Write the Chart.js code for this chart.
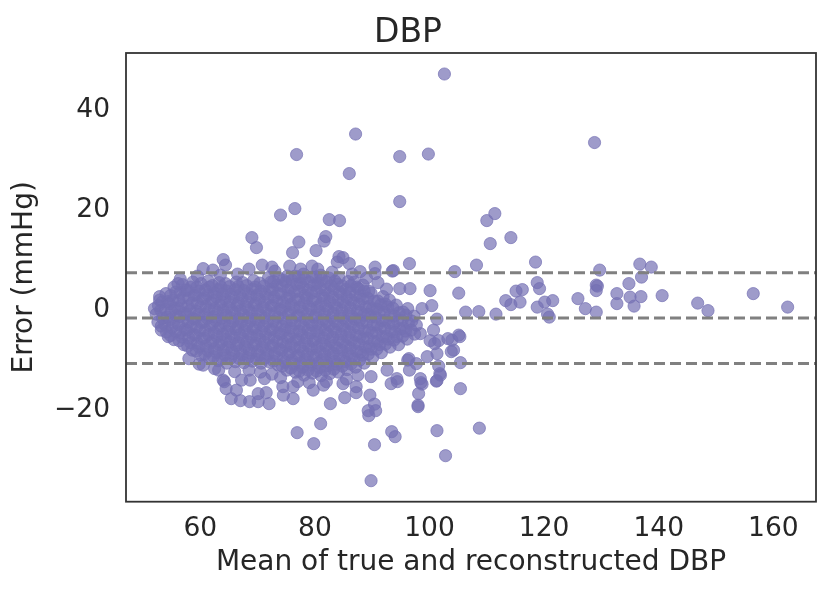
<!DOCTYPE html>
<html>
<head>
<meta charset="utf-8">
<script src="https://cdn.jsdelivr.net/npm/chart.js@4.4.1/dist/chart.umd.min.js"></script>
<style>
  html, body { margin: 0; padding: 0; background: #fff; }
</style>
</head>
<body>
<canvas id="chart" width="831" height="595"></canvas>
<script>
// Bland-Altman: mean of true/reconstructed DBP vs error
const chartTitle = "DBP";
const xLabel = "Mean of true and reconstructed DBP";
const yLabel = "Error (mmHg)";

const xTicks = [60, 80, 100, 120, 140, 160];
const yTicks = [-20, 0, 20, 40];
const xRange = [47.03, 167.45];
const yRange = [-38.3, 51.4];

// mean and limits of agreement (mean +/- 1.96 SD)
const agreement = [7.45, -1.6, -10.65];

// dense body of the cloud
const cloudPoints = [
  [52.6,-2.4],[52.3,-0.8],[52.7,0.9],[52.9,2.0],
  [54.1,-4.4],[53.8,-2.9],[54.2,-1.4],[53.9,0.1],[54.3,1.7],[54.0,3.3],
  [55.4,-5.9],[55.7,-4.3],[55.3,-2.6],[55.8,-1.1],[55.5,0.4],[55.2,2.0],[55.7,3.6],[55.4,4.6],
  [57.1,-6.9],[56.8,-5.4],[57.3,-3.8],[56.9,-2.2],[57.2,-0.6],[56.7,0.9],[57.0,2.5],[57.4,4.0],[56.9,5.1],
  [58.6,-8.0],[58.3,-6.5],[58.8,-4.9],[58.4,-3.3],[58.7,-1.7],[58.2,-0.1],[58.6,1.4],[58.9,3.0],[58.3,4.6],[58.7,5.6],
  [60.1,-9.0],[59.8,-7.4],[60.3,-5.8],[59.9,-4.1],[60.2,-2.5],[59.7,-0.9],[60.0,0.6],[60.4,2.2],[59.8,3.8],[60.1,5.3],
  [61.6,-9.6],[61.3,-8.1],[61.8,-6.5],[61.4,-4.9],[61.7,-3.2],[61.2,-1.6],[61.5,0.0],[61.9,1.5],[61.3,3.1],[61.6,4.6],[61.4,5.8],
  [63.1,-10.1],[62.8,-8.5],[63.3,-6.9],[62.9,-5.3],[63.2,-3.7],[62.7,-2.1],[63.0,-0.5],[63.4,1.0],[62.8,2.6],[63.1,4.1],[63.3,5.5],
  [64.6,-10.6],[64.3,-9.0],[64.8,-7.4],[64.4,-5.8],[64.7,-4.2],[64.2,-2.6],[64.5,-1.0],[64.9,0.6],[64.3,2.2],[64.6,3.8],[64.4,5.3],
  [66.1,-10.3],[65.8,-8.7],[66.3,-7.1],[65.9,-5.5],[66.2,-3.9],[65.7,-2.3],[66.0,-0.7],[66.4,0.9],[65.8,2.5],[66.1,4.1],[66.3,5.6],
  [67.6,-10.5],[67.3,-8.9],[67.8,-7.3],[67.4,-5.7],[67.7,-4.1],[67.2,-2.5],[67.5,-0.9],[67.9,0.7],[67.3,2.3],[67.6,3.9],[67.4,5.5],
  [69.1,-10.2],[68.8,-8.6],[69.3,-7.0],[68.9,-5.4],[69.2,-3.8],[68.7,-2.2],[69.0,-0.6],[69.4,1.0],[68.8,2.6],[69.1,4.2],[69.3,5.9],
  [70.6,-10.6],[70.3,-9.0],[70.8,-7.4],[70.4,-5.8],[70.7,-4.2],[70.2,-2.6],[70.5,-1.0],[70.9,0.6],[70.3,2.2],[70.6,3.8],[70.4,5.4],
  [72.1,-10.4],[71.8,-8.8],[72.3,-7.2],[71.9,-5.6],[72.2,-4.0],[71.7,-2.4],[72.0,-0.8],[72.4,0.8],[71.8,2.4],[72.1,4.0],[72.3,5.6],[71.9,6.5],
  [73.6,-11.0],[73.3,-9.4],[73.8,-7.8],[73.4,-6.2],[73.7,-4.6],[73.2,-3.0],[73.5,-1.4],[73.9,0.2],[73.3,1.8],[73.6,3.4],[73.4,5.0],[73.7,6.4],
  [75.1,-12.0],[74.8,-10.4],[75.3,-8.8],[74.9,-7.2],[75.2,-5.6],[74.7,-4.0],[75.0,-2.4],[75.4,-0.8],[74.8,0.8],[75.1,2.4],[75.3,4.0],[74.9,5.6],[75.2,6.8],
  [76.6,-12.4],[76.3,-10.8],[76.8,-9.2],[76.4,-7.6],[76.7,-6.0],[76.2,-4.4],[76.5,-2.8],[76.9,-1.2],[76.3,0.4],[76.6,2.0],[76.4,3.6],[76.8,5.2],[76.5,6.8],
  [78.1,-13.0],[77.8,-11.4],[78.3,-9.8],[77.9,-8.2],[78.2,-6.6],[77.7,-5.0],[78.0,-3.4],[78.4,-1.8],[77.8,-0.2],[78.1,1.4],[78.3,3.0],[77.9,4.6],[78.2,6.2],[78.0,7.2],
  [79.6,-12.6],[79.3,-11.0],[79.8,-9.4],[79.4,-7.8],[79.7,-6.2],[79.2,-4.6],[79.5,-3.0],[79.9,-1.4],[79.3,0.2],[79.6,1.8],[79.4,3.4],[79.8,5.0],[79.5,6.6],
  [81.1,-13.1],[80.8,-11.5],[81.3,-9.9],[80.9,-8.3],[81.2,-6.7],[80.7,-5.1],[81.0,-3.5],[81.4,-1.9],[80.8,-0.3],[81.1,1.3],[81.3,2.9],[80.9,4.5],[81.2,6.1],[81.0,7.0],
  [82.6,-12.7],[82.3,-11.1],[82.8,-9.5],[82.4,-7.9],[82.7,-6.3],[82.2,-4.7],[82.5,-3.1],[82.9,-1.5],[82.3,0.1],[82.6,1.7],[82.4,3.3],[82.8,4.9],[82.5,6.4],
  [84.1,-12.4],[83.8,-10.8],[84.3,-9.2],[83.9,-7.6],[84.2,-6.0],[83.7,-4.4],[84.0,-2.8],[84.4,-1.2],[83.8,0.4],[84.1,2.0],[84.3,3.6],[83.9,5.2],[84.2,6.5],
  [85.6,-11.9],[85.3,-10.3],[85.8,-8.7],[85.4,-7.1],[85.7,-5.5],[85.2,-3.9],[85.5,-2.3],[85.9,-0.7],[85.3,0.9],[85.6,2.5],[85.4,4.1],[85.8,5.7],
  [87.1,-11.4],[86.8,-9.8],[87.3,-8.2],[86.9,-6.6],[87.2,-5.0],[86.7,-3.4],[87.0,-1.8],[87.4,-0.2],[86.8,1.4],[87.1,3.0],[87.3,4.6],[86.9,5.6],
  [88.6,-10.6],[88.3,-9.0],[88.8,-7.4],[88.4,-5.8],[88.7,-4.2],[88.2,-2.6],[88.5,-1.0],[88.9,0.6],[88.3,2.2],[88.6,3.8],[88.4,5.0],
  [90.1,-9.4],[89.8,-7.8],[90.3,-6.2],[89.9,-4.6],[90.2,-3.0],[89.7,-1.4],[90.0,0.2],[90.4,1.8],[89.8,3.4],
  [91.6,-8.5],[91.3,-6.9],[91.8,-5.3],[91.4,-3.7],[91.7,-2.1],[91.2,-0.5],[91.5,1.1],[91.9,2.7],
  [93.1,-7.4],[92.8,-5.8],[93.3,-4.2],[92.9,-2.6],[93.2,-1.0],[92.7,0.6],[93.0,2.0],
  [94.6,-6.9],[94.3,-5.3],[94.8,-3.7],[94.4,-2.1],[94.7,-0.5],[94.2,1.0],
  [96.1,-5.8],[95.8,-4.2],[96.3,-2.6],[95.9,-1.0],[96.2,0.3],
  [97.4,-4.8],[97.7,-3.0],[97.3,-1.2]
];

// second, interleaved layer of the dense body
const cloudPointsInner = [
  [53.2,-3.2],[53.4,-1.6],[53.1,0.0],[53.3,1.6],
  [54.8,-5.1],[55.0,-3.5],[54.7,-1.9],[54.9,-0.3],[54.6,1.3],[54.8,2.9],
  [56.3,-6.1],[56.5,-4.5],[56.2,-2.9],[56.4,-1.3],[56.1,0.3],[56.3,1.9],[56.5,3.5],
  [57.8,-7.2],[58.0,-5.6],[57.7,-4.0],[57.9,-2.4],[57.6,-0.8],[57.8,0.8],[58.0,2.4],[57.7,4.0],
  [59.3,-8.2],[59.5,-6.6],[59.2,-5.0],[59.4,-3.4],[59.1,-1.8],[59.3,-0.2],[59.5,1.4],[59.2,3.0],[59.4,4.6],
  [60.8,-8.8],[61.0,-7.2],[60.7,-5.6],[60.9,-4.0],[60.6,-2.4],[60.8,-0.8],[61.0,0.8],[60.7,2.4],[60.9,4.0],
  [62.3,-9.3],[62.5,-7.7],[62.2,-6.1],[62.4,-4.5],[62.1,-2.9],[62.3,-1.3],[62.5,0.3],[62.2,1.9],[62.4,3.5],[62.1,4.9],
  [63.8,-9.6],[64.0,-8.0],[63.7,-6.4],[63.9,-4.8],[63.6,-3.2],[63.8,-1.6],[64.0,0.0],[63.7,1.6],[63.9,3.2],[63.6,4.6],
  [65.3,-9.6],[65.5,-8.0],[65.2,-6.4],[65.4,-4.8],[65.1,-3.2],[65.3,-1.6],[65.5,0.0],[65.2,1.6],[65.4,3.2],[65.1,4.7],
  [66.8,-9.7],[67.0,-8.1],[66.7,-6.5],[66.9,-4.9],[66.6,-3.3],[66.8,-1.7],[67.0,-0.1],[66.7,1.5],[66.9,3.1],[66.6,4.7],
  [68.3,-9.5],[68.5,-7.9],[68.2,-6.3],[68.4,-4.7],[68.1,-3.1],[68.3,-1.5],[68.5,0.1],[68.2,1.7],[68.4,3.3],[68.1,4.9],
  [69.8,-9.8],[70.0,-8.2],[69.7,-6.6],[69.9,-5.0],[69.6,-3.4],[69.8,-1.8],[70.0,-0.2],[69.7,1.4],[69.9,3.0],[69.6,4.6],
  [71.3,-9.6],[71.5,-8.0],[71.2,-6.4],[71.4,-4.8],[71.1,-3.2],[71.3,-1.6],[71.5,0.0],[71.2,1.6],[71.4,3.2],[71.1,4.8],
  [72.8,-10.2],[73.0,-8.6],[72.7,-7.0],[72.9,-5.4],[72.6,-3.8],[72.8,-2.2],[73.0,-0.6],[72.7,1.0],[72.9,2.6],[72.6,4.2],[72.8,5.7],
  [74.3,-11.2],[74.5,-9.6],[74.2,-8.0],[74.4,-6.4],[74.1,-4.8],[74.3,-3.2],[74.5,-1.6],[74.2,0.0],[74.4,1.6],[74.1,3.2],[74.3,4.8],[74.5,6.0],
  [75.8,-11.6],[76.0,-10.0],[75.7,-8.4],[75.9,-6.8],[75.6,-5.2],[75.8,-3.6],[76.0,-2.0],[75.7,-0.4],[75.9,1.2],[75.6,2.8],[75.8,4.4],[76.0,6.0],
  [77.3,-12.2],[77.5,-10.6],[77.2,-9.0],[77.4,-7.4],[77.1,-5.8],[77.3,-4.2],[77.5,-2.6],[77.2,-1.0],[77.4,0.6],[77.1,2.2],[77.3,3.8],[77.5,5.4],[77.2,6.6],
  [78.8,-12.0],[79.0,-10.4],[78.7,-8.8],[78.9,-7.2],[78.6,-5.6],[78.8,-4.0],[79.0,-2.4],[78.7,-0.8],[78.9,0.8],[78.6,2.4],[78.8,4.0],[79.0,5.6],
  [80.3,-12.2],[80.5,-10.6],[80.2,-9.0],[80.4,-7.4],[80.1,-5.8],[80.3,-4.2],[80.5,-2.6],[80.2,-1.0],[80.4,0.6],[80.1,2.2],[80.3,3.8],[80.5,5.4],[80.2,6.6],
  [81.8,-12.0],[82.0,-10.4],[81.7,-8.8],[81.9,-7.2],[81.6,-5.6],[81.8,-4.0],[82.0,-2.4],[81.7,-0.8],[81.9,0.8],[81.6,2.4],[81.8,4.0],[82.0,5.6],
  [83.3,-11.8],[83.5,-10.2],[83.2,-8.6],[83.4,-7.0],[83.1,-5.4],[83.3,-3.8],[83.5,-2.2],[83.2,-0.6],[83.4,1.0],[83.1,2.6],[83.3,4.2],[83.5,5.8],
  [84.8,-11.2],[85.0,-9.6],[84.7,-8.0],[84.9,-6.4],[84.6,-4.8],[84.8,-3.2],[85.0,-1.6],[84.7,0.0],[84.9,1.6],[84.6,3.2],[84.8,4.8],
  [86.3,-10.8],[86.5,-9.2],[86.2,-7.6],[86.4,-6.0],[86.1,-4.4],[86.3,-2.8],[86.5,-1.2],[86.2,0.4],[86.4,2.0],[86.1,3.6],[86.3,4.9],
  [87.8,-10.0],[88.0,-8.4],[87.7,-6.8],[87.9,-5.2],[87.6,-3.6],[87.8,-2.0],[88.0,-0.4],[87.7,1.2],[87.9,2.8],[87.6,4.3],
  [89.3,-8.8],[89.5,-7.2],[89.2,-5.6],[89.4,-4.0],[89.1,-2.4],[89.3,-0.8],[89.5,0.8],[89.2,2.4],[89.4,3.8],
  [90.8,-7.8],[91.0,-6.2],[90.7,-4.6],[90.9,-3.0],[90.6,-1.4],[90.8,0.2],[91.0,1.8],
  [92.3,-6.8],[92.5,-5.2],[92.2,-3.6],[92.4,-2.0],[92.1,-0.4],[92.3,1.2],
  [93.8,-6.0],[94.0,-4.4],[93.7,-2.8],[93.9,-1.2],[93.6,0.4],
  [95.3,-5.2],[95.5,-3.6],[95.2,-2.0],[95.4,-0.4],
  [96.8,-4.0],[96.9,-2.2]
];

// loose points around the edge of the cloud
const fringePoints = [
  [52.0,0.3],[52.9,2.7],[53.2,-4.0],[54.4,-5.3],[56.1,5.3],[56.5,6.2],[59.5,6.8],[63.5,7.0],
  [66.5,7.2],[68.5,8.2],[73.0,7.8],[80.5,8.2],[83.0,7.6],[86.5,7.2],[89.0,6.4],[91.0,5.5],
  [92.5,4.2],[90.5,8.6],[86.0,9.3],[58.0,-9.7],[59.8,-10.8],[63.2,-12.0],[66.0,-12.3],[68.5,-12.0],
  [70.5,-12.4],[72.5,-12.8],[74.0,-13.5],[85.5,-13.8],[87.5,-13.0],[79.0,-14.5],[81.5,-15.0],[77.0,-14.3],
  [60.5,8.3],[62.2,8.0],[70.8,9.0],[72.5,8.6],[75.6,8.8],[77.5,8.2],[79.5,8.8],[87.9,7.7],
  [90.5,7.3],[93.7,7.9],[93.5,7.8],[94.8,4.3],[96.6,4.3],[98.7,0.3],[100.7,-4.0],[98.4,-4.7]
];

// points above the upper limit
const upperPoints = [
  [102.6,47.2],[87.1,35.2],[76.8,31.1],[94.8,30.7],[99.8,31.2],[86.0,27.3],[94.8,21.7],[74.0,19.0],
  [76.5,20.3],[82.5,18.1],[84.3,17.9],[69.0,14.5],[69.8,12.5],[77.2,13.6],[81.9,14.7],[81.6,13.8],
  [80.2,11.9],[76.1,11.5],[64.0,10.1],[64.4,9.0],[84.9,10.5],[84.2,10.7],[83.9,9.6],[96.5,9.3],
  [108.2,9.0],[110.0,17.9],[111.4,19.3],[110.6,13.3],[114.2,14.5],[104.4,7.7],[128.8,33.5],[118.5,9.6],
  [129.7,8.0],[136.7,9.2],[138.7,8.6],[137.0,6.6]
];

// points in the sparse right-hand tail
const tailPoints = [
  [134.8,5.3],[129.1,5.0],[118.8,5.5],[105.1,3.4],[100.1,3.9],[100.4,0.9],[101.3,-1.8],[106.3,-0.4],
  [108.6,-0.3],[111.6,-0.8],[113.3,1.9],[114.2,1.1],[115.1,3.8],[116.2,4.1],[115.8,1.6],[119.2,4.3],
  [118.8,0.6],[120.1,1.6],[121.5,1.9],[120.6,-0.8],[120.9,-1.4],[125.9,2.3],[127.2,0.3],[129.1,-0.4],
  [129.3,4.8],[129.1,3.9],[132.7,3.3],[132.7,1.3],[135.0,2.6],[135.7,0.8],[136.9,2.7],[140.6,2.9],
  [146.8,1.4],[148.6,-0.1],[156.5,3.3],[162.5,0.6]
];

// points below the lower limit and near the right edge of the cloud
const lowerPoints = [
  [105.1,-5.0],[103.9,-6.0],[104.2,-8.0],[101.3,-8.7],[99.6,-9.3],[105.4,-10.5],[101.6,-11.2],[96.4,-9.7],
  [92.6,-12.0],[94.3,-13.7],[98.4,-13.7],[101.6,-6.1],[100.1,-6.1],[101.2,-14.2],[101.9,-13.0],[105.4,-15.7],
  [98.7,-14.8],[98.0,-19.0],[89.8,-34.1],[102.8,-29.1],[108.7,-23.6],[101.3,-24.1],[90.4,-26.9],[93.4,-24.3],
  [94.0,-25.3],[79.8,-26.7],[76.9,-24.5],[81.0,-22.7],[89.3,-20.1],[89.4,-21.1],[90.6,-20.1],[90.4,-18.8],
  [98.0,-19.3],[98.1,-16.7],[98.5,-14.5],[101.3,-14.1],[101.8,-12.7],[82.7,-18.7],[85.2,-17.5],[87.2,-16.5],
  [89.6,-17.0],[79.7,-16.0],[76.2,-17.7],[74.5,-17.0],[72.0,-18.7],[70.1,-18.3],[68.6,-18.3],[67.0,-18.1],
  [65.4,-17.7],[64.5,-15.7],[64.2,-14.3],[66.3,-16.0],[71.5,-16.5],[70.1,-16.7],[93.3,-14.7],[94.4,-14.3],
  [96.5,-12.0],[96.2,-10.0],[97.7,-10.7],[100.9,-6.7],[103.8,-8.3],[105.3,-5.3],[103.2,-5.7],[60.5,-11.0],
  [62.5,-11.7],[74.4,-15.3],[76.2,-15.3],[71.2,-13.7],[68.7,-14.0],[67.2,-14.0],[64.0,-14.0],[89.8,-13.3],
  [87.2,-15.3],[84.9,-14.7],[82.0,-14.3]
];

const allPoints = [...cloudPoints, ...cloudPointsInner, ...fringePoints, ...upperPoints, ...tailPoints, ...lowerPoints]
  .map(([x, y]) => ({ x, y }));

const textColor = "#262626";
const fontFamily = "'DejaVu Sans', sans-serif";

const frame = {
  id: "frame",
  afterDatasetsDraw(chart) {
    const { ctx, chartArea: a } = chart;
    ctx.save();
    ctx.strokeStyle = "#333333";
    ctx.lineWidth = 1.8;
    ctx.strokeRect(a.left, a.top, a.right - a.left, a.bottom - a.top);
    ctx.restore();
  },
};

const lineSets = agreement.map((v) => ({
  type: "line",
  data: [{ x: xRange[0], y: v }, { x: xRange[1], y: v }],
  borderColor: "#808080",
  borderWidth: 3,
  borderDash: [11, 5],
  pointRadius: 0,
  order: 0,
}));

new Chart(document.getElementById("chart"), {
  type: "scatter",
  data: {
    datasets: [
      ...lineSets,
      {
        data: allPoints,
        backgroundColor: "rgba(117, 112, 179, 0.7)",
        borderColor: "rgba(117, 112, 179, 0.7)",
        borderWidth: 1,
        pointRadius: 6.1,
        order: 1,
      },
    ],
  },
  options: {
    responsive: false,
    animation: false,
    layout: { padding: { left: 0, right: 15, top: 0, bottom: 0 } },
    plugins: {
      legend: { display: false },
      tooltip: { enabled: false },
      title: {
        display: true,
        text: chartTitle,
        color: textColor,
        font: { family: fontFamily, size: 33, weight: "normal", lineHeight: 1.18 },
        padding: { top: 13.7, bottom: 0.36 },
      },
    },
    scales: {
      x: {
        type: "linear",
        min: xRange[0],
        max: xRange[1],
        grid: { display: false, drawTicks: false },
        border: { display: false },
        afterBuildTicks: (s) => { s.ticks = xTicks.map((v) => ({ value: v })); },
        afterFit: (s) => { s.height = 93.3; },
        ticks: {
          color: textColor,
          padding: 12,
          maxRotation: 0,
          font: { family: fontFamily, size: 26.5 },
        },
        title: {
          display: true,
          text: xLabel,
          color: textColor,
          font: { family: fontFamily, size: 28, lineHeight: 1.2 },
          padding: { top: 0, bottom: 15 },
        },
      },
      y: {
        type: "linear",
        min: yRange[0],
        max: yRange[1],
        grid: { display: false, drawTicks: false },
        border: { display: false },
        afterBuildTicks: (s) => { s.ticks = yTicks.map((v) => ({ value: v })); },
        afterFit: (s) => { s.width = 126; },
        ticks: {
          color: textColor,
          padding: 16,
          font: { family: fontFamily, size: 26.5 },
          callback: (v) => (v < 0 ? "\u2212" + Math.abs(v) : String(v)),
        },
        title: {
          display: true,
          text: yLabel,
          color: textColor,
          font: { family: fontFamily, size: 28, lineHeight: 1.2 },
          padding: { top: 8, bottom: 8 },
        },
      },
    },
  },
  plugins: [frame],
});
</script>
</body>
</html>
